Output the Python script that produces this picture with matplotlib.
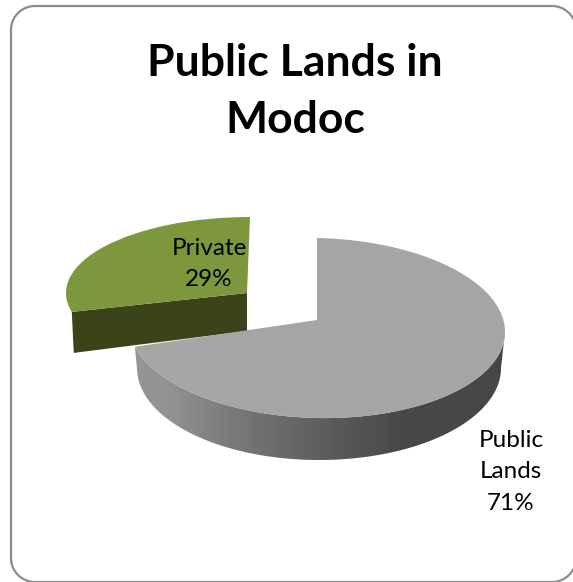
import numpy as np
import matplotlib
matplotlib.use("Agg")
import matplotlib.pyplot as plt
from matplotlib.patches import Polygon
from matplotlib.transforms import Affine2D

categories = ["Public Lands", "Private"]
shares = [71, 29]
label_text = ["Public\nLands\n71%", "Private\n29%"]
title_text = "Public Lands in\nModoc"

W, H = 573, 582
plt.rcParams["font.family"] = ["Lato", "DejaVu Sans"]
fig = plt.figure(figsize=(W / 100, H / 100), dpi=100)
ax = fig.add_axes([0, 0, 1, 1])


def ell(c, r, t, k=0.0):
    x = r[0] * np.cos(t)
    return np.column_stack([c[0] + x, c[1] - r[1] * np.sin(t) + k * x])


pub_c, pub_r = (317, 328), (188, 90)
pub_skew = 0.02
pub_low_c, pub_low_r = (319, 368), (182, 92)
pub_apex_dy = 8
pri_c, pri_r = (250, 293), (184, 76)

wedges, _ = ax.pie(shares, startangle=90, counterclock=False, radius=1)
ax.set_aspect("auto")
ax.axis("off")

# split angle (radians, anticlockwise from east), from the data
split_rad = np.deg2rad(90 - 360 * shares[0] / sum(shares))

# private slice side
edge = ell(pri_c, pri_r, np.array([split_rad + 2 * np.pi]))[0]
inner = np.array([247, 293.0])
front = np.array([edge, inner, inner + [0, 38], edge + [2, 41]])
ax.add_patch(Polygon(front, closed=True, fc="#3a4418", ec="none", zorder=2))

# public slice wall with horizontal gradient
upper = ell(pub_c, pub_r, np.linspace(split_rad, 0.0, 200), pub_skew)
lower = ell(pub_low_c, pub_low_r, np.linspace(0.0, -np.pi + 0.08, 200))
wall = Polygon(np.vstack([upper, lower]), closed=True, fc="none", ec="none")
ax.add_patch(wall)
ramp = np.interp(np.linspace(130, 510, 380), [130, 170, 230, 300, 400, 510],
                 [150, 145, 122, 100, 72, 70])[None, :]
im = ax.imshow(ramp, cmap="gray", vmin=0, vmax=255, extent=(130, 510, 470, 325),
               aspect="auto", zorder=3)
im.set_clip_path(wall)
ax.set_aspect("auto")
ax.set_xlim(0, W)
ax.set_ylim(H, 0)

# top faces come from the pie wedges, flattened onto their ellipses
public, private = wedges
public.set_transform(Affine2D.from_values(pub_r[0], pub_skew * pub_r[0], 0, -pub_r[1],
                                          pub_c[0], pub_c[1]) + ax.transData)
v = public.get_path().vertices
v[np.hypot(v[:, 0], v[:, 1]) < 1e-6, 1] = pub_apex_dy / pub_r[1]
public.set(facecolor="#a5a5a5", edgecolor="none", zorder=4)
private.set_transform(Affine2D().scale(pri_r[0], -pri_r[1]).translate(*pri_c) + ax.transData)
v = private.get_path().vertices
v[np.hypot(v[:, 0], v[:, 1]) < 1e-6, 0] = -3 / pri_r[0]
private.set(facecolor="#7d973d", edgecolor="none", zorder=2.5)
for w in wedges:
    w.set_clip_on(False)

# thin inner edge beside the public slice's cut
ax.plot([316.5, 316.5], [262, 320], color="#555555", lw=0.7, zorder=3.5)

# frame: open outline, its right side lies beyond the picture's edge
rad = 24
x0, y0, x1, y1 = 11, 6, 576, 582
def corner(cx, cy, a, b):
    a_ = np.deg2rad(np.linspace(a, b, 30))
    return np.column_stack([cx + rad * np.cos(a_), cy - rad * np.sin(a_)])
outline = np.vstack([
    corner(x1 - rad, y0 + rad, 29, 90),
    corner(x0 + rad, y0 + rad, 90, 180),
    corner(x0 + rad, y1 - rad, 180, 270),
    corner(x1 - rad, y1 - rad, 270, 331),
])
ax.plot(outline[:, 0], outline[:, 1], color="#8c8c8c", lw=1.6, zorder=1, clip_on=False)

ax.text(295, 91.5, title_text, ha="center", va="center", fontsize=32, fontweight="bold",
        color="black", linespacing=1.52, zorder=6)
ax.text(209, 264, label_text[1], ha="center", va="center", fontsize=17.5, color="black",
        linespacing=1.62, zorder=6)
ax.text(511, 472, label_text[0], ha="center", va="center", fontsize=17.5, color="black",
        linespacing=1.62, zorder=6)

fig.savefig("out.png", dpi=100)
